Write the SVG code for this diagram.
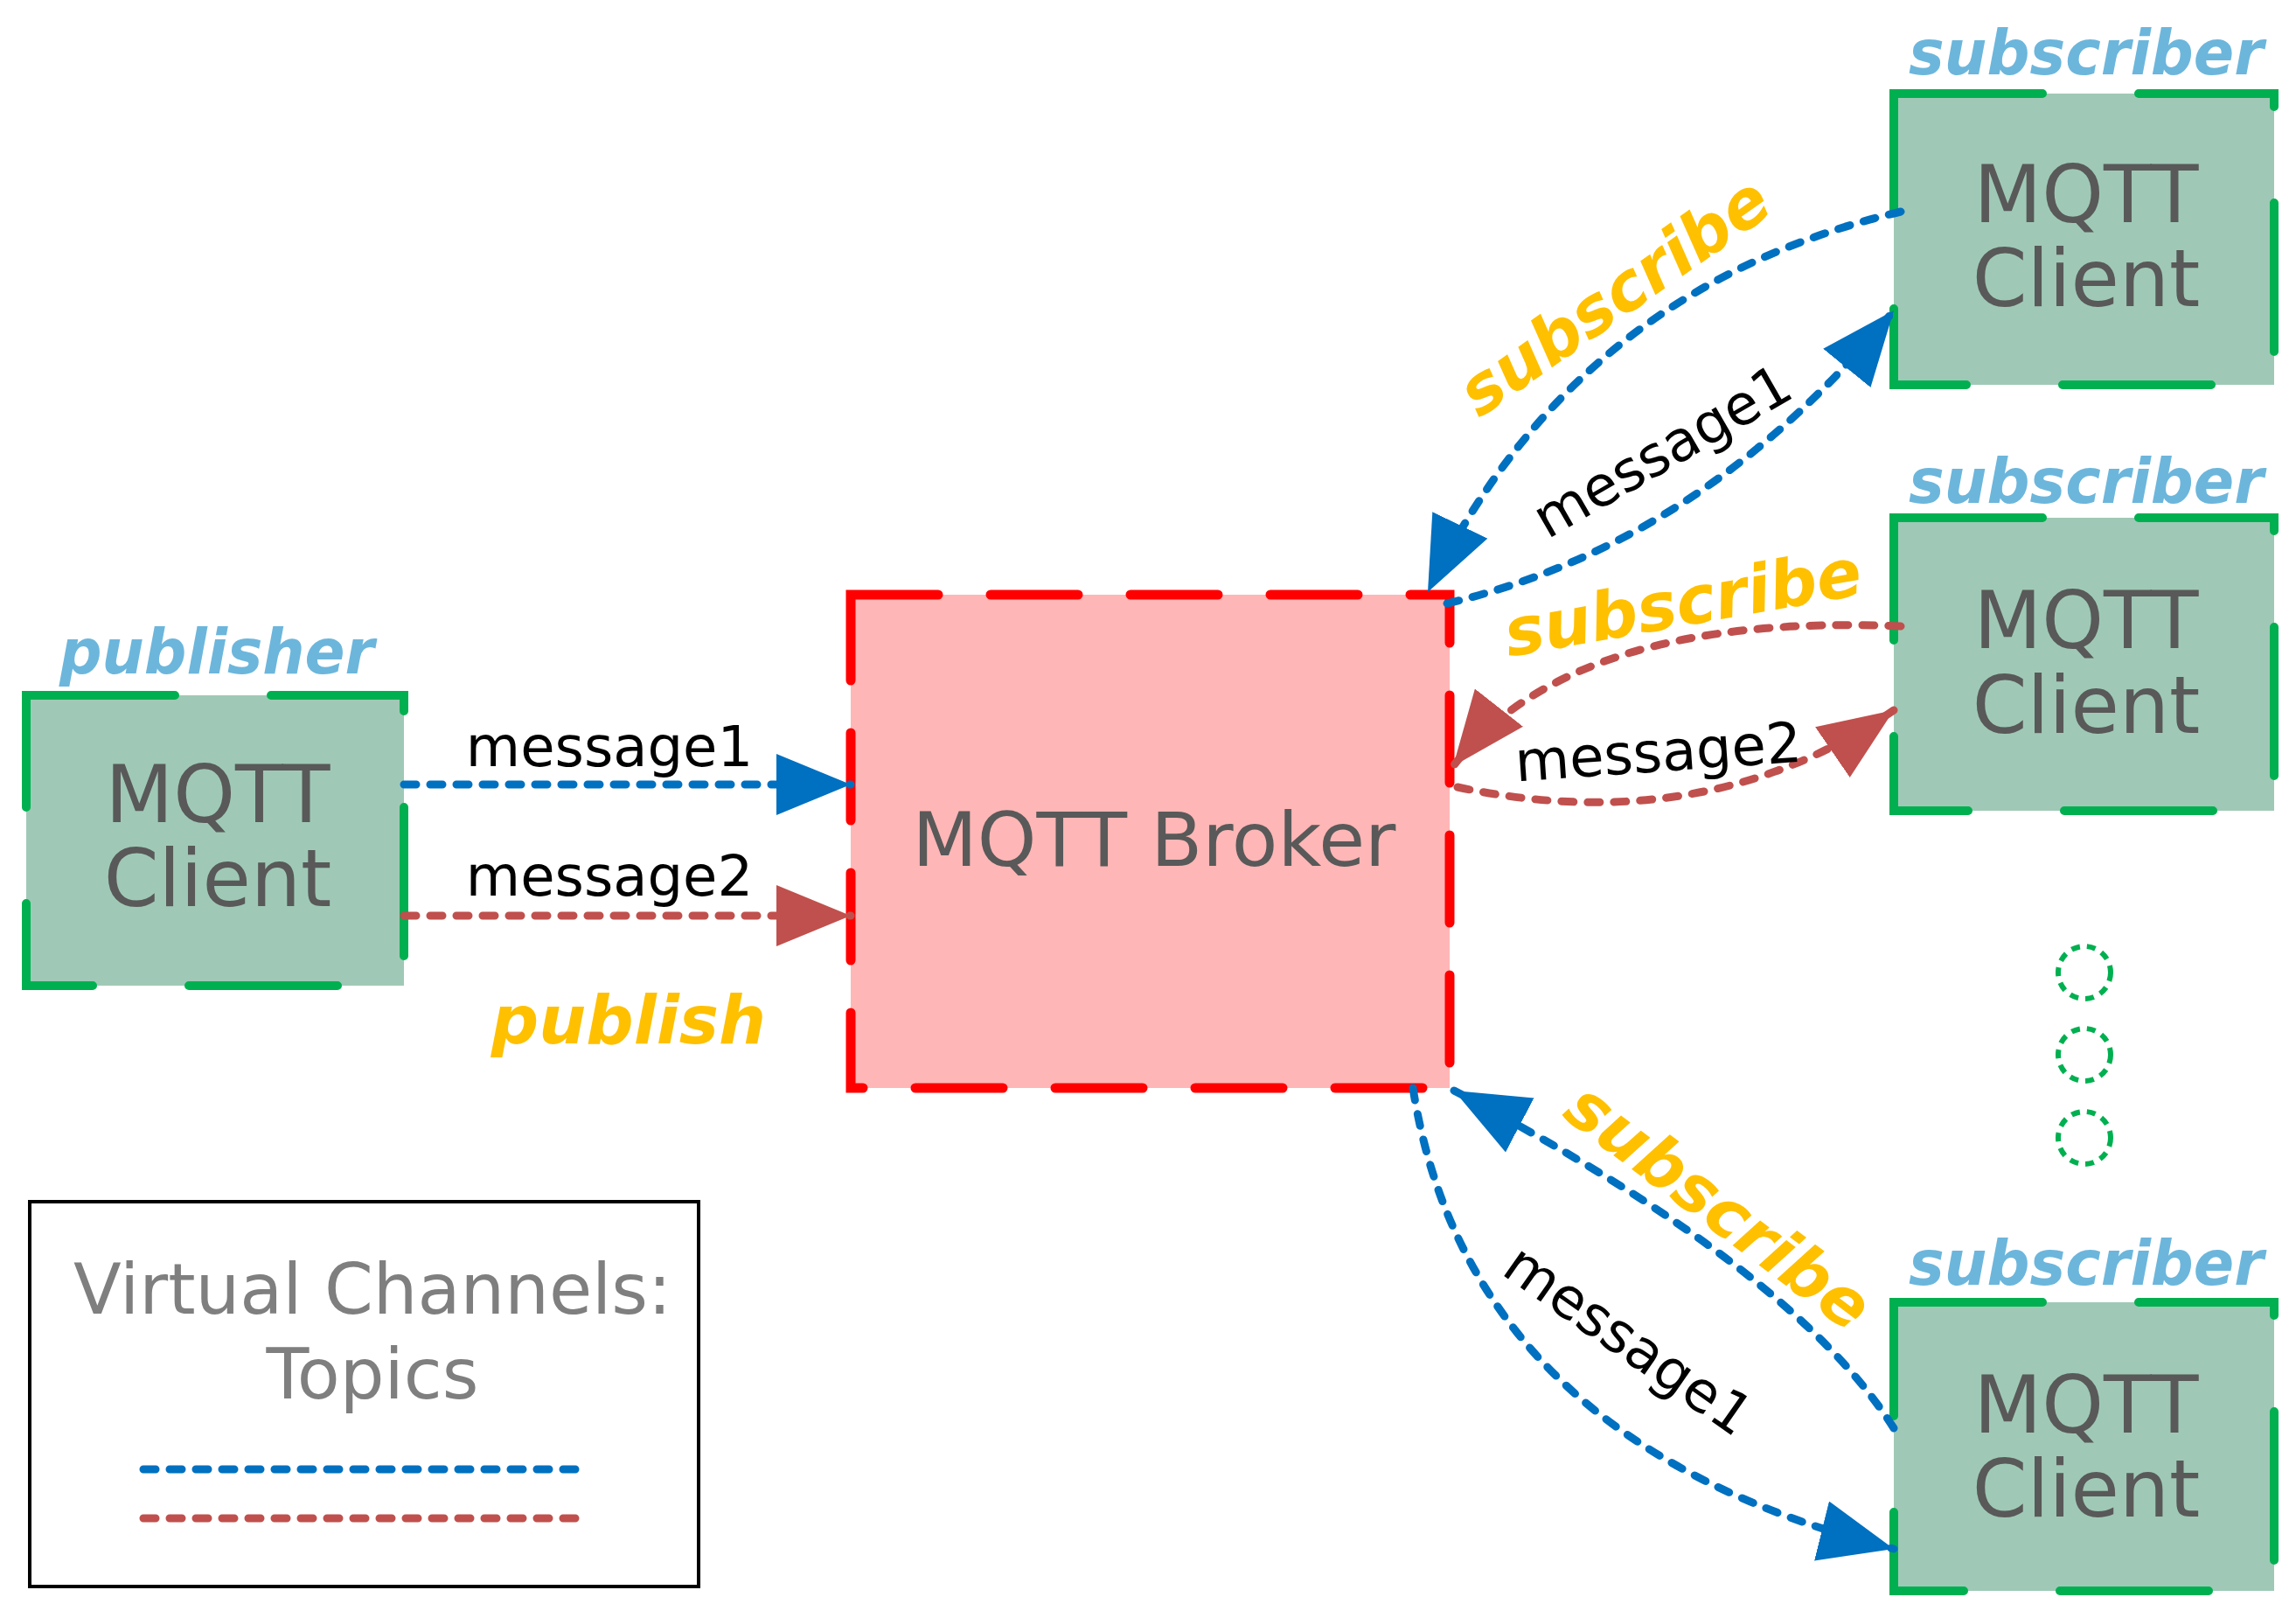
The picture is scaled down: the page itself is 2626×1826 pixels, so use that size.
<svg xmlns="http://www.w3.org/2000/svg" width="2626" height="1826" viewBox="0 0 2626 1826">
<style>
.cl{fill:#9fc9b6;stroke:#00b050;stroke-width:10;stroke-dasharray:170 110;stroke-linecap:round}
.t{font-family:"DejaVu Sans",sans-serif;fill:#595959;text-anchor:middle}
.role{font-family:"DejaVu Sans",sans-serif;font-weight:bold;font-style:italic;fill:#6cb6dc;font-size:72px}
.act{font-family:"DejaVu Sans",sans-serif;font-weight:bold;font-style:italic;fill:#ffc000;font-size:76px;text-anchor:middle}
.msg{font-family:"DejaVu Sans",sans-serif;fill:#000;font-size:64px;text-anchor:middle}
.b{fill:none;stroke:#0070c0;stroke-width:9;stroke-dasharray:14 16;stroke-linecap:round}
.r{fill:none;stroke:#c0504d;stroke-width:9;stroke-dasharray:14 16;stroke-linecap:round}
</style>
<defs>
<marker id="ab" markerUnits="userSpaceOnUse" markerWidth="90" markerHeight="70" refX="85" refY="35" orient="auto"><path d="M0,0L85,35L0,70z" fill="#0070c0"/></marker>
<marker id="ar" markerUnits="userSpaceOnUse" markerWidth="90" markerHeight="70" refX="85" refY="35" orient="auto"><path d="M0,0L85,35L0,70z" fill="#c0504d"/></marker>
</defs>
<g id="publisher">
<rect class="cl" x="30" y="795" width="432" height="332"/>
<text class="role" x="68" y="770" textLength="360" lengthAdjust="spacingAndGlyphs">publisher</text>
<text class="t" x="249" y="940" font-size="90">MQTT</text>
<text class="t" x="249" y="1036" font-size="90">Client</text>
</g>
<g id="broker">
<rect x="973" y="680" width="685" height="564" fill="#ffb6b6" stroke="#ff0000" stroke-width="11" stroke-dasharray="100 60" stroke-linecap="round"/>
<text class="t" x="1320" y="990" font-size="86">MQTT Broker</text>
</g>
<g id="sub1">
<rect class="cl" x="2166" y="107" width="435" height="333"/>
<text class="role" x="2183" y="85" textLength="406" lengthAdjust="spacingAndGlyphs">subscriber</text>
<text class="t" x="2386" y="254" font-size="90">MQTT</text>
<text class="t" x="2386" y="350" font-size="90">Client</text>
</g>
<g id="sub2">
<rect class="cl" x="2166" y="592" width="435" height="335"/>
<text class="role" x="2183" y="575" textLength="406" lengthAdjust="spacingAndGlyphs">subscriber</text>
<text class="t" x="2386" y="741" font-size="90">MQTT</text>
<text class="t" x="2386" y="838" font-size="90">Client</text>
</g>
<g id="sub3">
<rect class="cl" x="2166" y="1489" width="435" height="330"/>
<text class="role" x="2183" y="1469" textLength="406" lengthAdjust="spacingAndGlyphs">subscriber</text>
<text class="t" x="2386" y="1638" font-size="90">MQTT</text>
<text class="t" x="2386" y="1734" font-size="90">Client</text>
</g>
<g id="dots" fill="none" stroke="#00b050" stroke-width="6" stroke-dasharray="10 8">
<circle cx="2384" cy="1112" r="30"/><circle cx="2384" cy="1206" r="30"/><circle cx="2384" cy="1301" r="30"/>
</g>
<g id="legend">
<rect x="34" y="1374" width="765" height="440" fill="#fff" stroke="#000" stroke-width="4"/>
<text class="t" x="426" y="1502" font-size="80" style="fill:#7f7f7f">Virtual Channels:</text>
<text class="t" x="426" y="1599" font-size="80" style="fill:#7f7f7f">Topics</text>
<line class="b" x1="164" y1="1680" x2="663" y2="1680"/>
<line class="r" x1="164" y1="1736" x2="663" y2="1736"/>
</g>
<g id="connectors">
<path class="b" d="M462,897H973" marker-end="url(#ab)"/>
<path class="r" d="M462,1047H973" marker-end="url(#ar)"/>
<path class="b" d="M2174,242Q1800,330 1633,677" marker-end="url(#ab)"/>
<path class="b" d="M1655,690Q1950,620 2166,355" marker-end="url(#ab)"/>
<path class="r" d="M2174,716Q1800,700 1662,876" marker-end="url(#ar)"/>
<path class="r" d="M1667,900Q1950,960 2166,812" marker-end="url(#ar)"/>
<path class="b" d="M2166,1633Q2050,1450 1663,1247" marker-end="url(#ab)"/>
<path class="b" d="M1616,1244Q1680,1650 2166,1771" marker-end="url(#ab)"/>
</g>
<g id="labels">
<text class="msg" x="697" y="876">message1</text>
<text class="msg" x="697" y="1024">message2</text>
<text class="act" x="719" y="1193">publish</text>
<text class="act" transform="translate(1861,360) rotate(-35)">subscribe</text>
<text class="msg" transform="translate(1912,535) rotate(-30)">message1</text>
<text class="act" transform="translate(1929,715) rotate(-10)">subscribe</text>
<text class="msg" transform="translate(1898,882) rotate(-4)">message2</text>
<text class="act" transform="translate(1950,1400) rotate(37)">subscribe</text>
<text class="msg" transform="translate(1850,1550) rotate(35)">message1</text>
</g>
</svg>
